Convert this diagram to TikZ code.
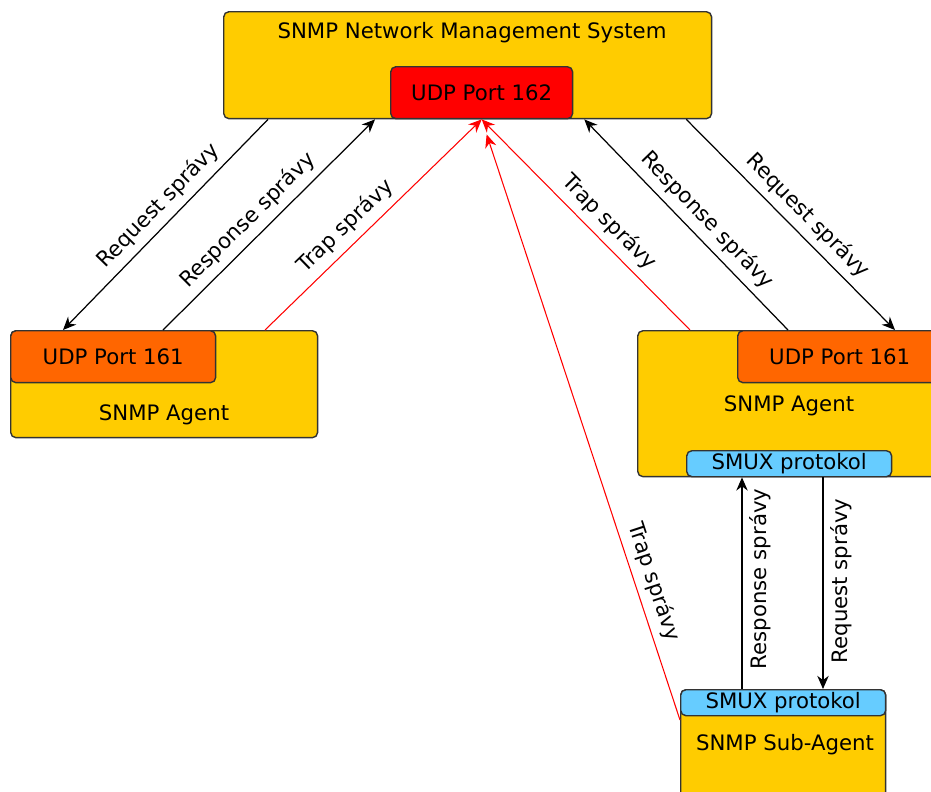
\documentclass[tikz,border=0pt]{standalone}
\usepackage{fontspec}
\setmainfont{DejaVu Sans}
\usetikzlibrary{arrows.meta,calc}
\definecolor{sysyellow}{HTML}{FFCC00}
\definecolor{portred}{HTML}{FF0000}
\definecolor{portorange}{HTML}{FF6600}
\definecolor{smuxblue}{HTML}{66CCFF}
\tikzset{
  box/.style={rectangle, draw=black!80, line width=0.8pt, rounded corners=3pt,
    inner sep=0pt, anchor=north west},
  msg/.style={-{Stealth[length=7.5pt,width=6.5pt]}, line width=0.7pt},
  trap/.style={msg, red, line width=0.6pt},
  lbl/.style={pos=0.46, sloped, above, inner sep=4pt, text=black},
  lblv/.style={pos=0.5, rotate=90, anchor=north, inner sep=4pt}
}

\begin{document}
\begin{tikzpicture}[x=0.02cm, y=-0.02cm, font=\fontsize{12.1}{14}\selectfont]
  \useasboundingbox (0,0) rectangle (931,792);
  \clip (0,0) rectangle (931,792);
  % management system
  \node[box, fill=sysyellow, minimum width=9.76cm, minimum height=2.14cm] (nms) at (223,11) {};
  \node (nmsname) at (472,33) {SNMP Network Management System};
  \node[box, fill=portred, minimum width=3.64cm, minimum height=1.04cm] (port162) at (390,66) {UDP Port 162};
  % left agent
  \node[box, fill=sysyellow, minimum width=6.14cm, minimum height=2.14cm] (lagent) at (10,330) {};
  \node[box, fill=portorange, minimum width=4.10cm, minimum height=1.04cm] (lport) at (10,330) {UDP Port 161};
  \node (lagentname) at (164,415) {SNMP Agent};
  % right agent
  \node[box, fill=sysyellow, minimum width=6.08cm, minimum height=2.92cm] (ragent) at (637,330) {};
  \node[box, fill=portorange, minimum width=4.08cm, minimum height=1.04cm] (rport) at (737,330) {UDP Port 161};
  \node (ragentname) at (789,406) {SNMP Agent};
  \node[box, fill=smuxblue, minimum width=4.10cm, minimum height=0.52cm] (asmux) at (686,450) {SMUX protokol};
  % sub-agent
  \node[box, fill=sysyellow, minimum width=4.10cm, minimum height=2.20cm] (sub) at (680,689) {};
  \node[box, fill=smuxblue, minimum width=4.10cm, minimum height=0.52cm] (ssmux) at (680,689) {SMUX protokol};
  \node (subname) at (785,745) {SNMP Sub-Agent};
  % messages
  \draw[msg] ($(nms.south west)+(45,0)$) -- ($(lport.north west)+(53,0)$)
    node[lbl, pos=0.47] {Request správy};
  \draw[msg] ($(lport.north west)+(153,0)$) -- ($(nms.south west)+(152,0)$)
    node[lbl] {Response správy};
  \draw[trap] ($(lagent.north west)+(255,0)$) -- (port162.south)
    node[lbl, pos=0.43] {Trap správy};
  \draw[trap] ($(ragent.north west)+(53,0)$) -- (port162.south)
    node[lbl, pos=0.45] {Trap správy};
  \draw[msg] ($(rport.north west)+(51,0)$) -- ($(nms.south east)+(-128,0)$)
    node[lbl] {Response správy};
  \draw[msg] ($(nms.south east)+(-26,0)$) -- ($(rport.north west)+(158,0)$)
    node[lbl, pos=0.52] {Request správy};
  \draw[trap, shorten >=9pt] ($(sub.north west)+(0,31)$) -- (port162.south)
    node[lbl, pos=0.22] {Trap správy};
  % smux
  \draw[msg] ($(ssmux.north west)+(62,0)$) -- ($(asmux.south west)+(56,0)$)
    node[lblv, pos=0.52] {Response správy};
  \draw[msg] ($(asmux.south west)+(137,0)$) -- ($(ssmux.north west)+(143,0)$)
    node[lblv, pos=0.49] {Request správy};
\end{tikzpicture}
\end{document}
